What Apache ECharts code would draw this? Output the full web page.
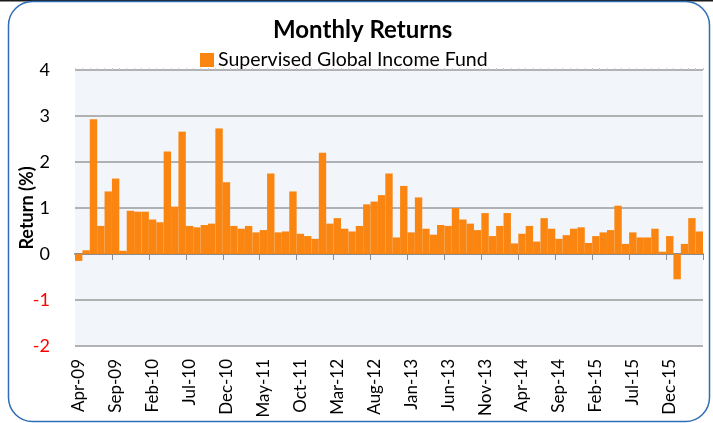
<!DOCTYPE html>
<html>
<head>
<meta charset="utf-8">
<script src="https://cdn.jsdelivr.net/npm/echarts@6/dist/echarts.min.js"></script>
<style>html,body{margin:0;padding:0;background:#fff}#c{width:713px;height:423px}</style>
</head>
<body>
<div id="c"></div>
<script>
const months = [
 'Apr-09','May-09','Jun-09','Jul-09','Aug-09','Sep-09','Oct-09','Nov-09','Dec-09',
 'Jan-10','Feb-10','Mar-10','Apr-10','May-10','Jun-10','Jul-10','Aug-10','Sep-10','Oct-10','Nov-10','Dec-10',
 'Jan-11','Feb-11','Mar-11','Apr-11','May-11','Jun-11','Jul-11','Aug-11','Sep-11','Oct-11','Nov-11','Dec-11',
 'Jan-12','Feb-12','Mar-12','Apr-12','May-12','Jun-12','Jul-12','Aug-12','Sep-12','Oct-12','Nov-12','Dec-12',
 'Jan-13','Feb-13','Mar-13','Apr-13','May-13','Jun-13','Jul-13','Aug-13','Sep-13','Oct-13','Nov-13','Dec-13',
 'Jan-14','Feb-14','Mar-14','Apr-14','May-14','Jun-14','Jul-14','Aug-14','Sep-14','Oct-14','Nov-14','Dec-14',
 'Jan-15','Feb-15','Mar-15','Apr-15','May-15','Jun-15','Jul-15','Aug-15','Sep-15','Oct-15','Nov-15','Dec-15',
 'Jan-16','Feb-16','Mar-16','Apr-16'
];
const seriesName = 'Supervised Global Income Fund';
const returns = [
 -0.15,0.08,2.93,0.61,1.36,1.64,0.07,0.94,0.92,
 0.92,0.75,0.69,2.23,1.03,2.66,0.61,0.58,0.63,0.66,2.73,1.56,
 0.61,0.55,0.61,0.47,0.52,1.75,0.47,0.49,1.36,0.44,0.39,0.33,
 2.20,0.66,0.78,0.55,0.49,0.61,1.08,1.14,1.28,1.75,0.36,1.48,
 0.47,1.23,0.55,0.42,0.63,0.61,1.00,0.75,0.66,0.52,0.89,0.39,
 0.61,0.89,0.23,0.44,0.61,0.27,0.78,0.55,0.33,0.41,0.55,0.58,
 0.24,0.39,0.47,0.52,1.05,0.22,0.47,0.36,0.36,0.55,0.05,0.39,
 -0.55,0.22,0.78,0.49
];
const yTicks = [-2,-1,0,1,2,3,4];

const font = 'Lato, "Open Sans", sans-serif';
const chart = echarts.init(document.getElementById('c'), null, {renderer:'canvas'});
chart.setOption({
  animation:false,
  backgroundColor:'#ffffff',
  textStyle:{fontFamily:font},
  graphic:[
    {type:'rect', z:-1, silent:true, shape:{x:0,y:0,width:713,height:1.5}, style:{fill:'#1a1a1a'}},
    {type:'rect', z:-1, silent:true, shape:{x:8.5,y:1.5,width:701,height:420,r:24}, style:{fill:'none',stroke:'#2f6db5',lineWidth:1.5}}
  ],
  title:{
    text:'Monthly Returns', left:268, top:13,
    textStyle:{fontFamily:font,fontWeight:'bold',fontSize:24,color:'#000'}
  },
  legend:{
    data:[seriesName], left:195, top:45, icon:'rect', itemWidth:14, itemHeight:14, itemGap:5,
    textStyle:{fontFamily:font,fontSize:19.5,color:'#000',padding:[0,0,0,-1]}
  },
  grid:{left:75,right:10,top:70,bottom:77,show:true,backgroundColor:'#f2f5fa',borderWidth:0,outerBoundsMode:'none',containLabel:false},
  xAxis:[
    {type:'category',data:months,
     axisLine:{onZero:true,lineStyle:{color:'#8c8c8c',width:2}},
     axisTick:{show:true,interval:4,length:6,lineStyle:{color:'#8c8c8c',width:1}},
     axisLabel:{show:false},splitLine:{show:false}},
    {type:'category',data:months,position:'bottom',
     axisLine:{show:false,onZero:false},axisTick:{show:false},splitLine:{show:false},
     axisLabel:{interval:4,rotate:90,fontSize:17,margin:13,color:'#000',fontFamily:font}},
    {type:'category',data:months,
     axisLine:{show:false,onZero:true},
     axisTick:{show:true,interval:0,length:2,lineStyle:{color:'#c8c8c8',width:1}},
     axisLabel:{show:false},splitLine:{show:false}}
  ],
  yAxis:{
    type:'value',min:yTicks[0],max:yTicks[yTicks.length-1],interval:1,
    axisLine:{show:false},axisTick:{show:false},
    splitLine:{lineStyle:{color:'#9a9a9a',width:1.5}},
    axisLabel:{fontSize:18,margin:25,fontFamily:font,color:function(v){return Number(v)<0?'#ff0000':'#000';}},
    name:'Return (%)',nameLocation:'middle',nameGap:39,nameMoveOverlap:false,
    nameTextStyle:{fontFamily:font,fontWeight:'bold',fontSize:18,color:'#000'}
  },
  series:[{
    name:seriesName,type:'bar',xAxisIndex:0,data:returns,
    barCategoryGap:'0%',itemStyle:{color:'#fa8611'}
  }]
});
</script>
</body>
</html>
